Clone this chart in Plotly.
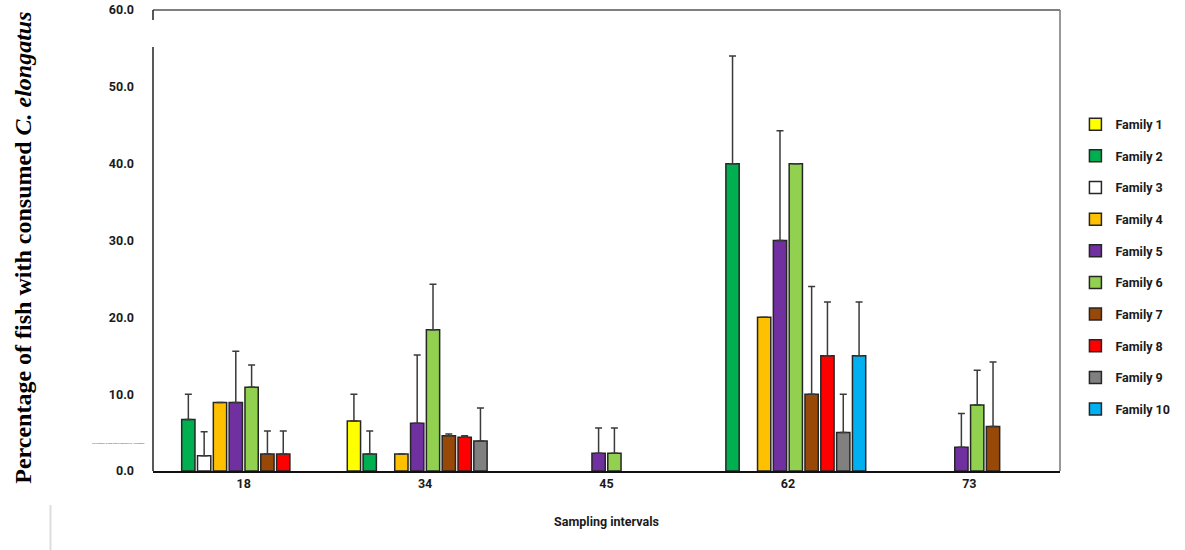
import plotly.graph_objects as go

categories = ["18", "34", "45", "62", "73"]
families = ["Family 1", "Family 2", "Family 3", "Family 4", "Family 5",
            "Family 6", "Family 7", "Family 8", "Family 9", "Family 10"]

# mean values per family (None = no bar) for sampling intervals 18, 34, 45, 62, 73
f1 = [None, 6.5, None, None, None]
f2 = [6.7, 2.2, None, 40.0, None]
f3 = [2.0, None, None, None, None]
f4 = [8.9, 2.2, None, 20.0, None]
f5 = [8.9, 6.2, 2.3, 30.0, 3.1]
f6 = [10.9, 18.4, 2.3, 40.0, 8.6]
f7 = [2.2, 4.6, None, 10.0, 5.8]
f8 = [2.2, 4.4, None, 15.0, None]
f9 = [None, 3.9, None, 5.0, None]
f10 = [None, None, None, 15.0, None]

# upper error values
e1 = [None, 3.5, None, None, None]
e2 = [3.3, 3.0, None, 14.0, None]
e3 = [3.1, None, None, None, None]
e4 = [0, 0, None, 0, None]
e5 = [6.7, 8.9, 3.3, 14.3, 4.4]
e6 = [2.9, 5.9, 3.3, 0, 4.5]
e7 = [3.0, 0.2, None, 14.0, 8.4]
e8 = [3.0, 0.2, None, 7.0, None]
e9 = [None, 4.3, None, 5.0, None]
e10 = [None, None, None, 7.0, None]

values = [f1, f2, f3, f4, f5, f6, f7, f8, f9, f10]
errors = [e1, e2, e3, e4, e5, e6, e7, e8, e9, e10]
colors = ["#FFFF00", "#00B050", "#FFFFFF", "#FFC000", "#7030A0",
          "#92D050", "#984807", "#FF0000", "#808080", "#00B0F0"]

ytick_vals = [0, 10, 20, 30, 40, 50, 60]

label_font = "Roboto, Liberation Sans, Arial, sans-serif"
label_size = 12.5
text_col = "#1a1a1a"

fig = go.Figure()
for i, name in enumerate(families):
    fig.add_trace(go.Bar(
        x=categories, y=values[i], name=name,
        legendgroup=name,
        marker=dict(color=colors[i], line=dict(color="#262626", width=1.5)),
        error_y=dict(type="data", symmetric=False, array=errors[i],
                     arrayminus=[0 if v is not None else None for v in errors[i]],
                     color="#3a3a3a", thickness=1.5, width=3.5),
    ))

shapes = [
    # frame: top, right, left (with gap near top)
    dict(type="line", xref="paper", yref="paper", x0=0, x1=1, y0=1, y1=1,
         line=dict(color="#555555", width=1.5)),
    dict(type="line", xref="paper", yref="paper", x0=1, x1=1, y0=0, y1=1,
         line=dict(color="#777777", width=1.5)),
    dict(type="line", xref="paper", yref="y", x0=0, x1=0, y0=0, y1=55.2,
         line=dict(color="#222222", width=1.5)),
    dict(type="line", xref="paper", yref="y", x0=0, x1=0, y0=58.7, y1=60,
         line=dict(color="#222222", width=1.5)),
    # faint line bottom-left
    dict(type="line", xref="paper", yref="paper", x0=-0.113, x1=-0.113,
         y0=-0.074, y1=-0.175, line=dict(color="#dddddd", width=2)),
]

annotations = [
    dict(text="Percentage of fish with consumed <i>C. elongatus</i>",
         xref="paper", yref="paper", x=-0.143, y=0.485, textangle=-90,
         showarrow=False, xanchor="center", yanchor="middle",
         font=dict(family="Liberation Serif, Times New Roman, serif",
                   size=24, color="#000000", weight="bold")),
    dict(text="Percentage of fish with consumed C. elongatus",
         xref="paper", yref="paper", x=-0.0065, y=0.0586, showarrow=False,
         xanchor="right", yanchor="middle",
         font=dict(family="Arial", size=2.5, color="#1f3a6e")),
]

fig.update_layout(
    width=1185, height=550,
    margin=dict(l=153, r=103, t=10, b=79),
    paper_bgcolor="white", plot_bgcolor="white",
    barmode="group", bargap=0.128, bargroupgap=0.16,
    showlegend=True,
    legend=dict(x=1.017, xanchor="left", y=0.784, yanchor="top",
                traceorder="grouped", tracegroupgap=12.4,
                font=dict(family=label_font, size=label_size, color=text_col, weight="bold"),
                bgcolor="rgba(0,0,0,0)"),
    shapes=shapes, annotations=annotations,
    xaxis=dict(showline=True, linecolor="#111111", linewidth=2,
               showgrid=False, zeroline=False, ticks="", automargin=False,
               tickfont=dict(family=label_font, size=label_size, color=text_col, weight="bold"),
               title=dict(text="Sampling intervals", standoff=27,
                          font=dict(family=label_font, size=label_size, color=text_col, weight="bold"))),
    yaxis=dict(range=[0, 60], tickvals=ytick_vals, tickformat=".1f",
               showline=False, showgrid=False, zeroline=False, ticks="",
               ticklabelstandoff=18, automargin=False,
               tickfont=dict(family=label_font, size=label_size, color=text_col, weight="bold")),
)

fig.write_html("out.html")
